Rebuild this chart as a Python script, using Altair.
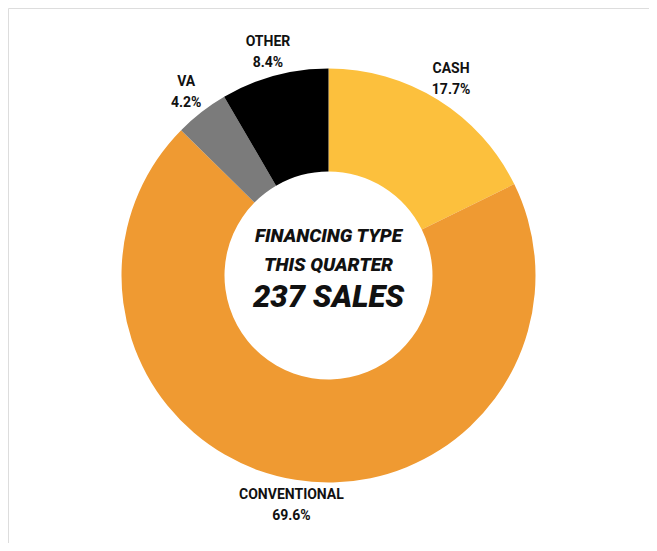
import altair as alt
import pandas as pd

categories = ["CASH", "CONVENTIONAL", "VA", "OTHER"]
shares = [17.7, 69.6, 4.2, 8.4]
colors = ["#FCC03D", "#EF9A32", "#7B7B7B", "#000000"]
center_lines = ["FINANCING TYPE", "THIS QUARTER", "237 SALES"]

df = pd.DataFrame({
    "cat": categories,
    "share": shares,
    "ord": list(range(len(categories))),
})
df["pct"] = [f"{s}%" for s in shares]

FONT = "Roboto, Liberation Sans, sans-serif"

base = alt.Chart(df).encode(
    theta=alt.Theta("share:Q", stack=True),
    order=alt.Order("ord:Q"),
)

arcs = base.mark_arc(innerRadius=104, outerRadius=207, strokeOpacity=0).encode(
    color=alt.Color("cat:N", scale=alt.Scale(domain=categories, range=colors), legend=None)
)

name_lbl = base.mark_text(
    radius=232, dy=-10, font=FONT, fontWeight="bold", fontSize=14,
    align="center", baseline="middle", color="#111111"
).encode(text="cat:N")

pct_lbl = base.mark_text(
    radius=232, dy=11, font=FONT, fontWeight="bold", fontSize=14,
    align="center", baseline="middle", color="#111111"
).encode(text="pct:N")

cdf = pd.DataFrame({"t": center_lines, "y": [228, 257, 290], "s": [19, 19, 31]})
center = alt.Chart(cdf).mark_text(
    font=FONT, fontWeight=900, fontStyle="italic", align="center", baseline="middle", color="#111111"
).encode(
    text="t:N",
    x=alt.value(320.5),
    y=alt.Y("y:Q", scale=None),
    size=alt.Size("s:Q", scale=None, legend=None),
)

chart = alt.layer(arcs, name_lbl, pct_lbl, center).properties(
    width=641, height=535, padding=0, autosize="none"
).configure_view(stroke="white", strokeWidth=0).configure(background="white")

chart.save("out.html", embed_options={"renderer": "svg", "actions": False})
